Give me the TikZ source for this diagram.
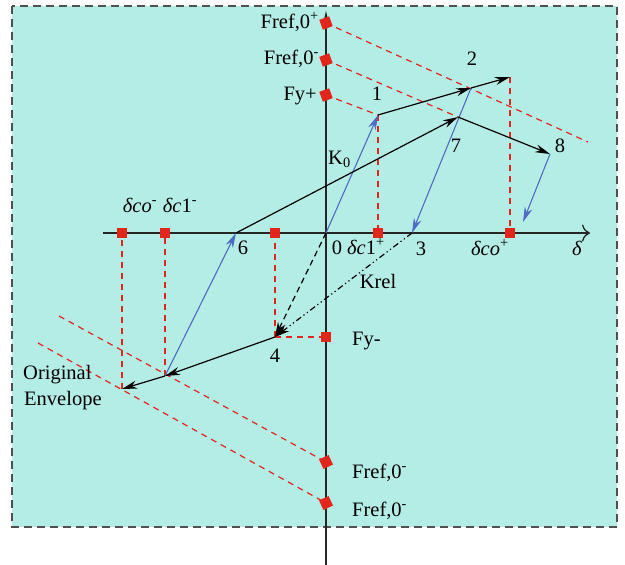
\documentclass[tikz,border=0pt]{standalone}
\usepackage{fontspec}
\setmainfont{Liberation Serif}
\usetikzlibrary{arrows.meta}
\definecolor{bg}{RGB}{180,237,229}
\definecolor{mred}{RGB}{226,38,28}
\definecolor{mblue}{RGB}{78,108,196}
\definecolor{frame}{RGB}{80,80,80}
\tikzset{
  axis/.style={line width=1.3pt, black!85},
  blk/.style={line width=1.2pt, black, -{Stealth[length=15pt,width=8pt]}},
  blu/.style={line width=1.1pt, mblue, -{Stealth[length=15pt,width=8pt]}},
  rdash/.style={line width=1.2pt, mred, dash pattern=on 6pt off 5pt},
  mk/.style={fill=mred, inner sep=0pt, minimum size=10.5pt, draw=none},
  lbl/.style={anchor=base, inner sep=0pt},
}
\begin{document}
\begin{tikzpicture}[x=1pt,y=-1pt,font=\fontsize{20.5}{23}\selectfont]
\useasboundingbox (0,0) rectangle (625,565);
\draw[fill=bg, draw=frame, line width=1.3pt, dash pattern=on 8pt off 5pt] (12,6) rectangle (617,527);

% points
\coordinate (O) at (326,233);
\coordinate (P1) at (378,115);
\coordinate (J) at (471,88);
\coordinate (P2) at (510,77);
\coordinate (P7) at (458,117);
\coordinate (P8) at (550,154);
\coordinate (P3) at (412,233);
\coordinate (E8) at (523,222);
\coordinate (P6) at (236,233);
\coordinate (P4) at (275,337);
\coordinate (A) at (165,376);
\coordinate (B) at (122,389);
\coordinate (T1) at (588,142);
\coordinate (L1) at (59,316);
\coordinate (L2) at (38,343);
\coordinate (AB) at (326,565);
\coordinate (AT) at (326,10);
\coordinate (HL) at (103,233);
\coordinate (HR) at (590,233);

% axes
\draw[axis, -{Latex[length=12pt,width=6pt]}] (AB) -- (AT);
\draw[axis, -{To[length=8pt,width=17pt]}] (HL) -- (HR);

% markers
\node[mk, rotate=20] (Fp) at (326,23) {};
\node[mk, rotate=20] (Fm) at (326,60) {};
\node[mk, rotate=20] (Fyp) at (326,95) {};
\node[mk] (dcom) at (122,233) {};
\node[mk] (dc1m) at (165,233) {};
\node[mk] (m6) at (275,233) {};
\node[mk] (dc1p) at (378,233) {};
\node[mk] (dcop) at (510,233) {};
\node[mk] (Fym) at (326,337) {};
\node[mk, rotate=25] (Lo1) at (326,462) {};
\node[mk, rotate=25] (Lo2) at (326,503) {};

% red dashed
\draw[rdash] (Fp.center) -- (T1);
\draw[rdash] (Fm.center) -- (P7);
\draw[rdash] (Fyp.center) -- (P1);
\draw[rdash] (P1) -- (dc1p.center);
\draw[rdash] (P2) -- (dcop.center);
\draw[rdash] (P4) -- (m6.center);
\draw[rdash] (P4) -- (Fym.center);
\draw[rdash] (A) -- (dc1m.center);
\draw[rdash] (B) -- (dcom.center);
\draw[rdash] (L1) -- (Lo1.center);
\draw[rdash] (L2) -- (Lo2.center);

% blue
\draw[blu] (O) -- (P1);
\draw[blu] (J) -- (P3);
\draw[blu] (P8) -- (E8);
\draw[blu] (A) -- (P6);

% black
\draw[blk] (P1) -- (J);
\draw[blk] (J) -- (P2);
\draw[blk] (P6) -- (P7);
\draw[blk] (P7) -- (P8);
\draw[blk] (P4) -- (A);
\draw[blk] (A) -- (B);
\draw[blk, dash pattern=on 6pt off 4pt] (O) -- (P4);
\draw[blk, dash pattern=on 6pt off 3pt on 1.2pt off 3pt on 1.2pt off 3pt] (P3) -- (P4);

% labels
\node[lbl, anchor=base east] (tFp) at (319,28) {Fref,0\textsuperscript{+}};
\node[lbl, anchor=base east] (tFm) at (319,64) {Fref,0\textsuperscript{-}};
\node[lbl, anchor=base east] (tFyp) at (317,100) {Fy+};
\node[lbl] (t1) at (377,100) {1};
\node[lbl] (t2) at (472,65) {2};
\node[lbl] (t7) at (456,152) {7};
\node[lbl] (t8) at (560,152) {8};
\node[lbl, anchor=base west] (tK) at (328,164) {K\textsubscript{0}};
\node[lbl] (t0) at (337,254) {0};
\node[lbl, anchor=base west] (tdc1p) at (347,254) {\textit{δc}1\textsuperscript{+}};
\node[lbl] (t3) at (421,255) {3};
\node[lbl, anchor=base west] (tdcop) at (471,255) {\textit{δco}\textsuperscript{+}};
\node[lbl] (td) at (577,255) {\textit{δ}};
\node[lbl] (tKrel) at (378,288) {Krel};
\node[lbl] (t6) at (243,254) {6};
\node[lbl] (tdcom) at (140,212) {\textit{δco}\textsuperscript{-}};
\node[lbl] (tdc1m) at (180,212) {\textit{δc}1\textsuperscript{-}};
\node[lbl] (t4) at (275,362) {4};
\node[lbl, anchor=base west] (tFym) at (352,345) {Fy-};
\node[lbl, anchor=base west] (tOr) at (23,379) {Original};
\node[lbl, anchor=base west] (tEn) at (24,405) {Envelope};
\node[lbl, anchor=base west] (tL1) at (352,478) {Fref,0\textsuperscript{-}};
\node[lbl, anchor=base west] (tL2) at (352,516) {Fref,0\textsuperscript{-}};
\end{tikzpicture}
\end{document}
